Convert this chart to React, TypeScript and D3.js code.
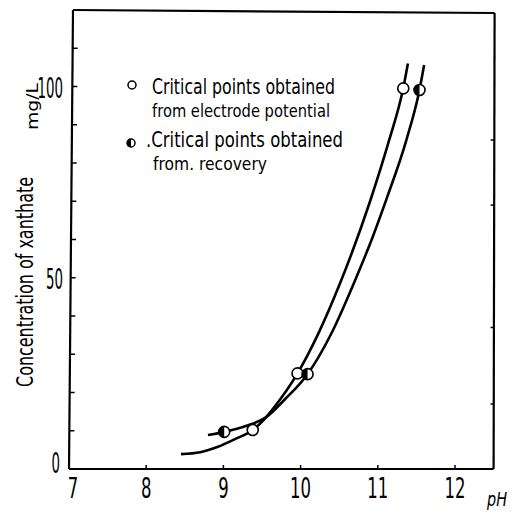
import React from "react";
import * as d3 from "d3";

// Tick labels
const xTicks = [7, 8, 9, 10, 11, 12];
const yTickLabels = [0, 50, 100];
const yMinorTicks = [10, 20, 30, 40, 50, 60, 70, 80, 90, 100, 110];
const rightTicks = [17, 37, 69, 86];

// Critical points obtained from electrode potential (open circles)
const electrodeX = [9.38, 9.96, 11.33];
const electrodeY = [10.2, 25.0, 99.5];
// Critical points obtained from recovery (half-filled circles)
const recoveryX = [9.01, 10.09, 11.54];
const recoveryY = [9.7, 24.8, 99.1];

// Fitted curves
const curveAX = [8.45, 8.7, 8.93, 9.15, 9.38, 9.52, 9.66, 9.96, 10.22, 10.52, 10.9, 11.14, 11.33, 11.39];
const curveAY = [3.9, 4.4, 5.8, 7.8, 10.2, 12.8, 16.2, 25.0, 35.0, 49.0, 70.0, 85.5, 99.6, 106.0];
const curveBX = [8.8, 9.01, 9.3, 9.55, 9.8, 10.09, 10.4, 10.72, 10.94, 11.12, 11.37, 11.54, 11.6];
const curveBY = [8.9, 9.7, 11.3, 13.5, 18.3, 24.8, 35.5, 50.0, 61.0, 71.0, 86.0, 99.1, 105.6];

const FONT = "'DejaVu Sans', sans-serif";

export default function App() {
  const x = d3.scaleLinear().domain([7, 12.5]).range([69, 493.6]);
  const y = d3.scaleLinear().domain([0, 120]).range([469, 10]);

  const line = d3
    .line<[number, number]>()
    .x((d) => x(d[0]))
    .y((d) => y(d[1]))
    .curve(d3.curveMonotoneX);

  const curveA = line(curveAX.map((v, i) => [v, curveAY[i]] as [number, number])) || "";
  const curveB = line(curveBX.map((v, i) => [v, curveBY[i]] as [number, number])) || "";

  const halfCircle = (cx: number, cy: number, r: number) =>
    `M${cx},${cy - r} A${r},${r} 0 0 0 ${cx},${cy + r} Z`;

  const x0 = x(7), x1 = x(12.5), yb = y(0), yt = y(120);

  return (
    <svg width={516} height={514} style={{ position: "absolute", left: 0, top: 0, background: "#fff" }}>
      <rect width={516} height={514} fill="#fff" />
      {/* frame */}
      <g stroke="#000" strokeWidth={2.2} fill="none">
        <line x1={x0} y1={yb} x2={x1} y2={yb} />
        <line x1={x0} y1={yb} x2={x0 + 4} y2={yt} />
        <line x1={x0 + 4} y1={yt} x2={x1 + 1} y2={yt + 3} />
        <line x1={x1} y1={yb} x2={x1 + 1} y2={yt + 3} />
      </g>
      {/* ticks */}
      <g stroke="#000" strokeWidth={1.5}>
        {yMinorTicks.map((t) => {
          const yy = y(t);
          const ax = x0 + (4 * (yb - yy)) / (yb - yt);
          return <line key={"yt" + t} x1={ax} y1={yy} x2={ax + 5} y2={yy} />;
        })}
        {xTicks.slice(1).map((t) => (
          <line key={"xt" + t} x1={x(t)} y1={yb} x2={x(t)} y2={yb - 4} />
        ))}
        {rightTicks.map((t) => (
          <line key={"rt" + t} x1={x1} y1={y(t)} x2={x1 - 3} y2={y(t)} />
        ))}
      </g>
      {/* tick labels */}
      <g fontFamily={FONT} fontSize={28} fill="#000">
        {xTicks.map((t) => {
          const s = String(t);
          const w = s.length * 10.5;
          return (
            <text key={"xl" + t} x={x(t) + (t === 7 ? 4 : 0) - w / 2} y={498} textLength={w} lengthAdjust="spacingAndGlyphs">
              {s}
            </text>
          );
        })}
        {yTickLabels.map((t) => {
          const s = String(t);
          const w = s.length * 8.5;
          return (
            <text
              key={"yl" + t}
              x={(t === 0 ? 60 : 63) - w}
              y={y(t) + (t === 0 ? 4 : 11)}
              textLength={w}
              lengthAdjust="spacingAndGlyphs"
            >
              {s}
            </text>
          );
        })}
      </g>
      <text x={487} y={506} fontFamily={FONT} fontSize={20} fontStyle="italic" textLength={20} lengthAdjust="spacingAndGlyphs">
        pH
      </text>
      {/* y label */}
      <text
        transform="translate(33,387) rotate(-90)"
        fontFamily={FONT}
        fontSize={23}
        textLength={210}
        lengthAdjust="spacingAndGlyphs"
      >
        Concentration of xanthate
      </text>
      <text
        transform="translate(38,130) rotate(-90)"
        fontFamily={FONT}
        fontSize={15}
        textLength={47}
        lengthAdjust="spacingAndGlyphs"
      >
        mg/L
      </text>
      {/* curves */}
      <path d={curveA} fill="none" stroke="#000" strokeWidth={2.6} />
      <path d={curveB} fill="none" stroke="#000" strokeWidth={2.6} />
      {/* markers */}
      {electrodeX.map((v, i) => (
        <circle key={"e" + i} cx={x(v)} cy={y(electrodeY[i])} r={5.5} fill="#fff" stroke="#000" strokeWidth={1.6} />
      ))}
      {recoveryX.map((v, i) => {
        const cx = x(v), cy = y(recoveryY[i]);
        return (
          <g key={"r" + i}>
            <circle cx={cx} cy={cy} r={5.5} fill="#fff" stroke="#000" strokeWidth={1.6} />
            <path d={halfCircle(cx, cy, 5.5)} fill="#000" />
          </g>
        );
      })}
      {/* legend */}
      <circle cx={132} cy={85} r={4} fill="#fff" stroke="#000" strokeWidth={1.5} />
      <circle cx={131} cy={143} r={4} fill="#fff" stroke="#000" strokeWidth={1.5} />
      <path d={halfCircle(131, 143, 4)} fill="#000" />
      <g fontFamily={FONT} fill="#000">
        <text x={152} y={94} fontSize={21} textLength={183} lengthAdjust="spacingAndGlyphs">
          Critical points obtained
        </text>
        <text x={152} y={117} fontSize={18} textLength={178} lengthAdjust="spacingAndGlyphs">
          from electrode potential
        </text>
        <text x={146} y={147} fontSize={21} textLength={197} lengthAdjust="spacingAndGlyphs">
          .Critical points obtained
        </text>
        <text x={153} y={170} fontSize={18} textLength={114} lengthAdjust="spacingAndGlyphs">
          from. recovery
        </text>
      </g>
    </svg>
  );
}
